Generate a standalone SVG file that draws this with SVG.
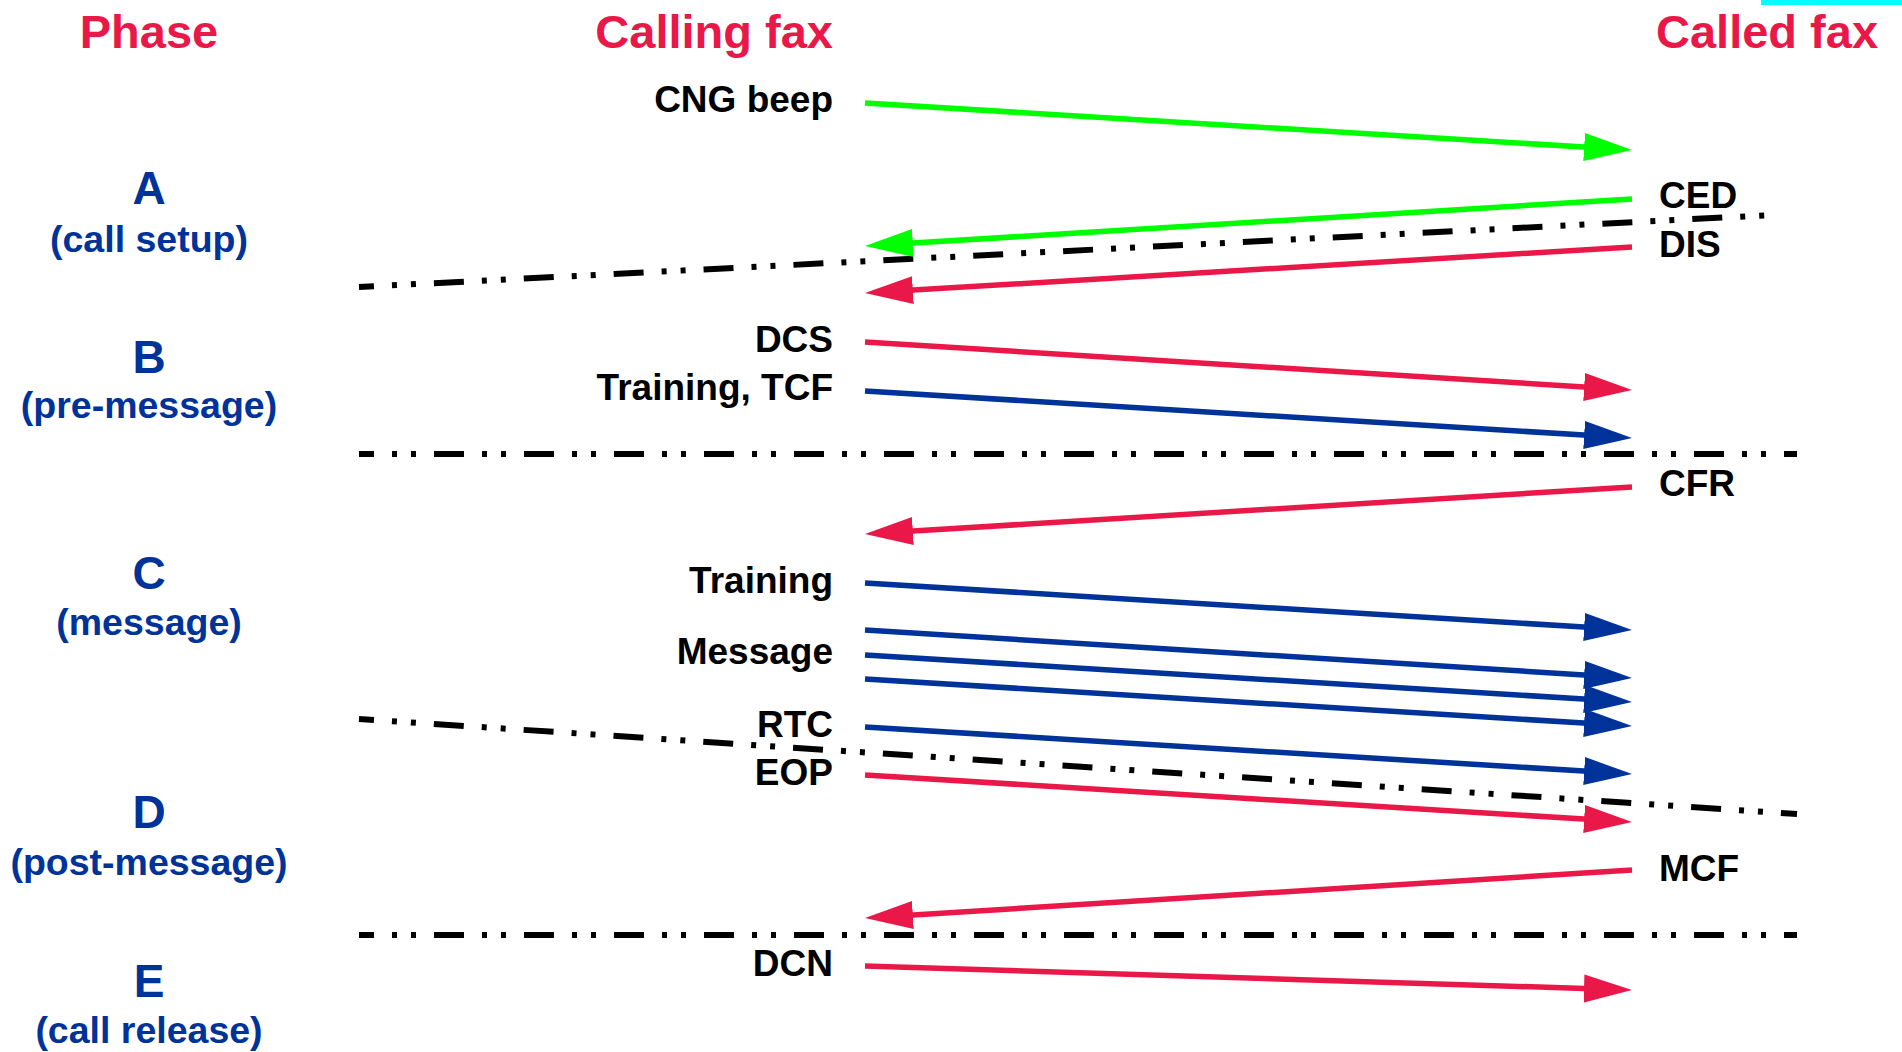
<svg xmlns="http://www.w3.org/2000/svg" width="1902" height="1052" viewBox="0 0 1902 1052">
<style>
text{font-family:"Liberation Sans",Arial,Helvetica,sans-serif;font-weight:bold}
.hdr{fill:#ea1849;font-size:47px}
.ph{fill:#003399;font-size:46px;text-anchor:middle}
.phs{fill:#003399;font-size:37.5px;text-anchor:middle}
.lbl{fill:#000;font-size:37px}
.l{text-anchor:end}
.sep{fill:none;stroke:#000;stroke-width:6;stroke-dasharray:30 18 5 14 5 18;stroke-dashoffset:15}
.g{stroke:#00ff00;stroke-width:5.5;fill:none;marker-end:url(#mg)}
.r{stroke:#ea1849;stroke-width:5.5;fill:none;marker-end:url(#mr)}
.b{stroke:#003399;stroke-width:5.5;fill:none;marker-end:url(#mb)}
</style>
<defs>
<marker id="mg" markerUnits="userSpaceOnUse" markerWidth="50" markerHeight="30" viewBox="0 0 50 30" refX="8" refY="15" orient="auto"><path d="M0,1 L48,15 L0,29 z" fill="#00ff00"/></marker>
<marker id="mr" markerUnits="userSpaceOnUse" markerWidth="50" markerHeight="30" viewBox="0 0 50 30" refX="8" refY="15" orient="auto"><path d="M0,1 L48,15 L0,29 z" fill="#ea1849"/></marker>
<marker id="mb" markerUnits="userSpaceOnUse" markerWidth="50" markerHeight="30" viewBox="0 0 50 30" refX="8" refY="15" orient="auto"><path d="M0,1 L48,15 L0,29 z" fill="#003399"/></marker>
</defs>
<rect x="0" y="0" width="1902" height="1052" fill="#ffffff"/>
<rect x="1761" y="0" width="141" height="5" fill="#00ffff"/>
<g id="headers">
<text class="hdr" x="149" y="48" text-anchor="middle">Phase</text>
<text class="hdr" x="833" y="48" text-anchor="end">Calling fax</text>
<text class="hdr" x="1656" y="48">Called fax</text>
</g>
<g id="phase-A"><text class="ph" x="149" y="204">A</text><text class="phs" x="149" y="252">(call setup)</text></g>
<g id="phase-B"><text class="ph" x="149" y="373">B</text><text class="phs" x="149" y="418">(pre-message)</text></g>
<g id="phase-C"><text class="ph" x="149" y="589">C</text><text class="phs" x="149" y="635">(message)</text></g>
<g id="phase-D"><text class="ph" x="149" y="828">D</text><text class="phs" x="149" y="875">(post-message)</text></g>
<g id="phase-E"><text class="ph" x="149" y="997">E</text><text class="phs" x="149" y="1043">(call release)</text></g>
<g id="separators">
<line class="sep" x1="359" y1="287" x2="1773" y2="215"/>
<line class="sep" x1="359" y1="454" x2="1797" y2="454"/>
<line class="sep" x1="359" y1="719" x2="1797" y2="814"/>
<line class="sep" x1="359" y1="935" x2="1797" y2="935"/>
</g>
<g id="labels-calling">
<text class="lbl l" x="833" y="112">CNG beep</text>
<text class="lbl l" x="833" y="352">DCS</text>
<text class="lbl l" x="833" y="400">Training, TCF</text>
<text class="lbl l" x="833" y="593">Training</text>
<text class="lbl l" x="833" y="664">Message</text>
<text class="lbl l" x="833" y="737">RTC</text>
<text class="lbl l" x="833" y="785">EOP</text>
<text class="lbl l" x="833" y="976">DCN</text>
</g>
<g id="labels-called">
<text class="lbl" x="1659" y="208">CED</text>
<text class="lbl" x="1659" y="257">DIS</text>
<text class="lbl" x="1659" y="496">CFR</text>
<text class="lbl" x="1659" y="881">MCF</text>
</g>
<g id="connectors">
<line class="g" x1="865" y1="103" x2="1592.1" y2="147.55"/>
<line class="g" x1="1632" y1="199" x2="904.9" y2="243.55"/>
<line class="r" x1="1632" y1="247" x2="904.9" y2="290.6"/>
<line class="r" x1="865" y1="342" x2="1592.1" y2="387.5"/>
<line class="b" x1="865" y1="391" x2="1592.1" y2="435.55"/>
<line class="r" x1="1632" y1="487" x2="904.9" y2="531.55"/>
<line class="b" x1="865" y1="583" x2="1592.1" y2="627.55"/>
<line class="b" x1="865" y1="630" x2="1592.1" y2="675.5"/>
<line class="b" x1="865" y1="655" x2="1592.1" y2="699.55"/>
<line class="b" x1="865" y1="679" x2="1592.1" y2="723.55"/>
<line class="b" x1="865" y1="727" x2="1592.1" y2="771.55"/>
<line class="r" x1="865" y1="775" x2="1592.1" y2="819.55"/>
<line class="r" x1="1632" y1="870" x2="904.9" y2="915.5"/>
<line class="r" x1="865" y1="966" x2="1592" y2="988.75"/>
</g>
</svg>
